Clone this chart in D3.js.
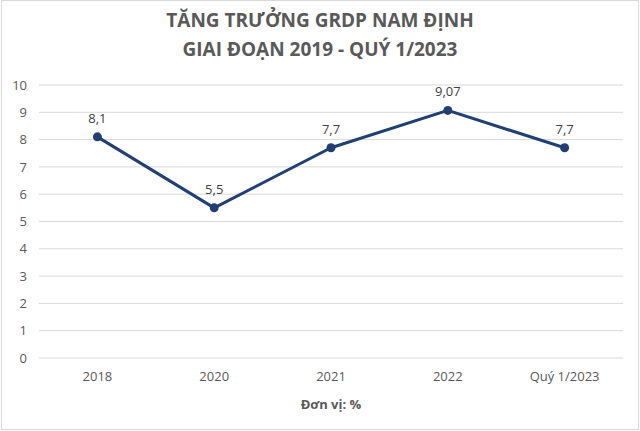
<!DOCTYPE html>
<html><head><meta charset="utf-8">
<script src="https://cdn.jsdelivr.net/npm/d3@7"></script>
<style>body{margin:0;background:#fff}svg{display:block}</style>
</head><body>
<script>
const categories = ["2018", "2020", "2021", "2022", "Quý 1/2023"];
const values = [8.1, 5.5, 7.7, 9.07, 7.7];
const valueLabels = ["8,1", "5,5", "7,7", "9,07", "7,7"];
const yTicks = [0,1,2,3,4,5,6,7,8,9,10];
const titleLines = ["TĂNG TRƯỞNG GRDP NAM ĐỊNH", "GIAI ĐOẠN 2019 - QUÝ 1/2023"];
const xTitle = "Đơn vị: %";

const W = 640, H = 431;
const font = "'Open Sans', 'Noto Sans', sans-serif";
const svg = d3.select("body").append("svg").attr("width", W).attr("height", H);
svg.append("rect").attr("x",1.5).attr("y",0.5).attr("width",W-3).attr("height",H-2)
  .attr("fill","#fff").attr("stroke","#d9d9d9");

const x = d3.scaleBand().domain(categories).range([39, 623]);
const y = d3.scaleLinear().domain([0, 10]).range([358, 85]);

svg.selectAll("text.title").data(titleLines).join("text")
  .attr("x", 320).attr("y", (d,i)=>27 + i*29)
  .attr("text-anchor","middle").attr("font-family", font)
  .attr("font-size", 19).attr("font-weight","bold").attr("fill","#595959")
  .text(d=>d);

// grid
svg.append("g").selectAll("line").data(yTicks).join("line")
  .attr("x1", 39).attr("x2", 623).attr("y1", d=>y(d)).attr("y2", d=>y(d))
  .attr("stroke","#d9d9d9").attr("stroke-width",1);

const yAxis = svg.append("g").attr("transform","translate(39,0)")
  .call(d3.axisLeft(y).tickValues(yTicks).tickSize(0).tickPadding(12));
yAxis.select(".domain").remove();
yAxis.selectAll("text").attr("font-family", font).attr("font-size", 13).attr("fill","#595959");

const xAxis = svg.append("g").attr("transform","translate(0,358)")
  .call(d3.axisBottom(x).tickSize(0).tickPadding(14));
xAxis.select(".domain").remove();
xAxis.selectAll("text").attr("font-family", font).attr("font-size", 13).attr("fill","#595959");

svg.append("text").attr("x", 331).attr("y", 409).attr("text-anchor","middle")
  .attr("font-family", font).attr("font-size", 13).attr("font-weight","bold").attr("fill","#595959")
  .text(xTitle);

const pts = categories.map((c,i)=>({c, v: values[i], l: valueLabels[i]}));
const cx = d => x(d.c) + x.bandwidth()/2;
svg.append("path").datum(pts)
  .attr("d", d3.line().x(cx).y(d=>y(d.v)))
  .attr("fill","none").attr("stroke","#203f74").attr("stroke-width",3).attr("stroke-linejoin","round");
svg.selectAll("circle.pt").data(pts).join("circle")
  .attr("cx", cx).attr("cy", d=>y(d.v)).attr("r", 4.5).attr("fill","#203f74");
svg.selectAll("text.lbl").data(pts).join("text")
  .attr("x", cx).attr("y", d=>y(d.v)-14).attr("text-anchor","middle")
  .attr("font-family", font).attr("font-size", 13).attr("fill","#404040")
  .text(d=>d.l);
</script>
</body></html>
